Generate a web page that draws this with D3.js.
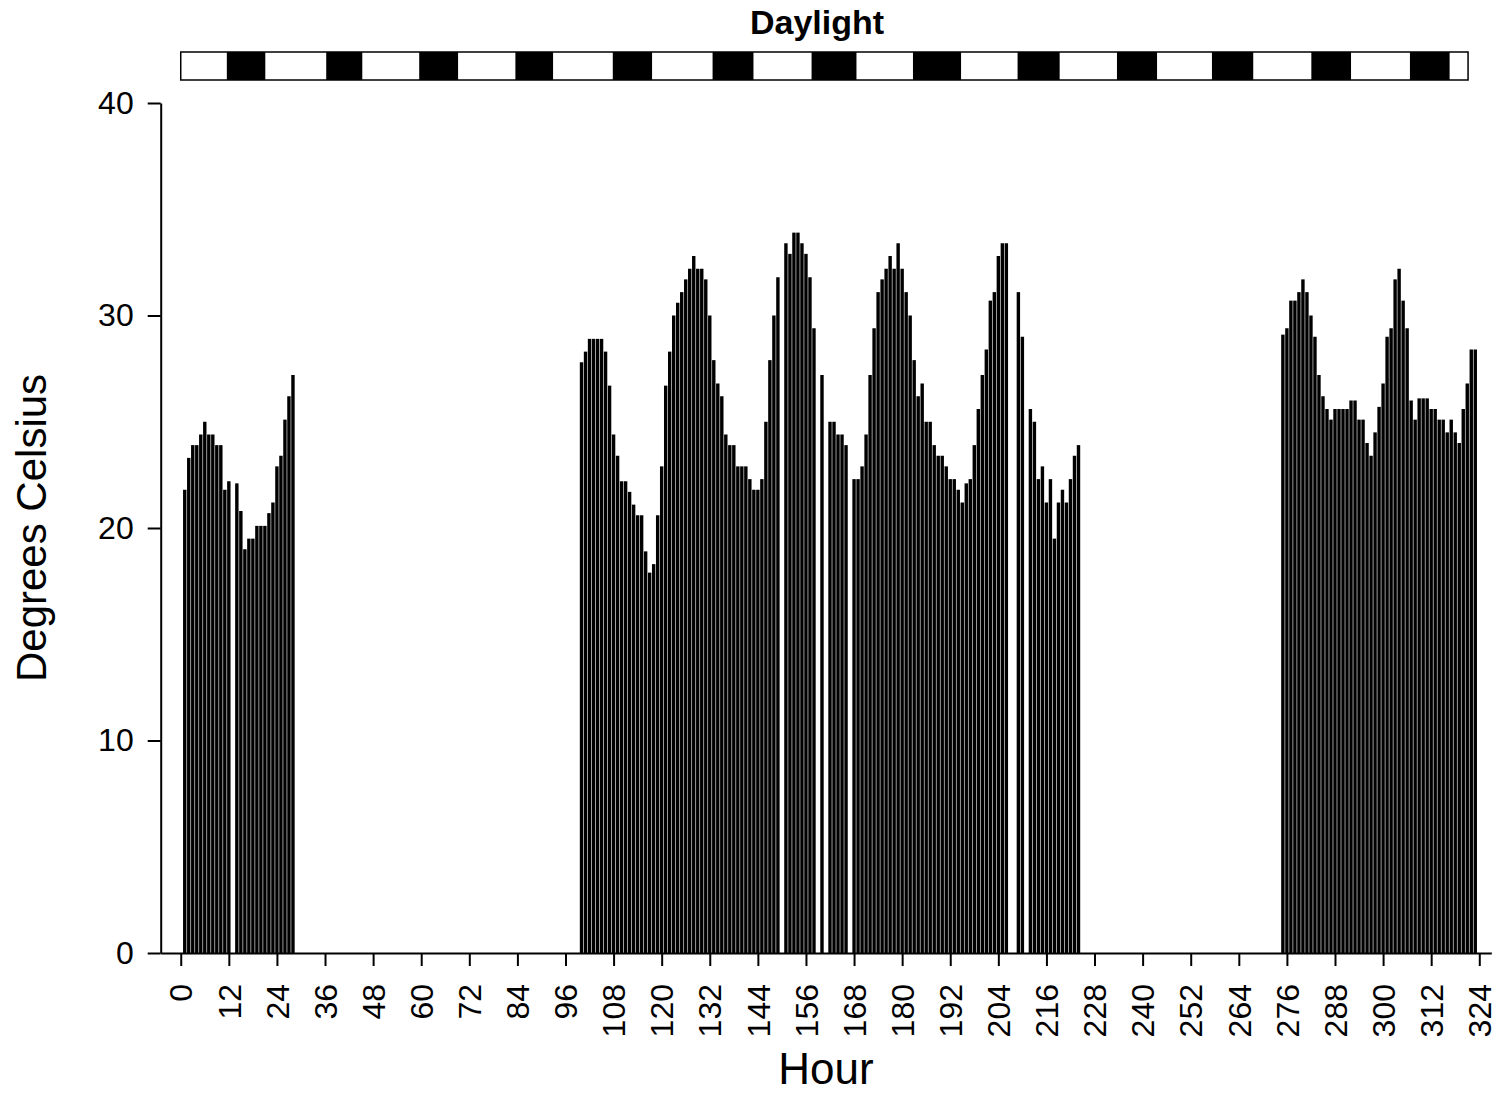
<!DOCTYPE html>
<html>
<head>
<meta charset="utf-8">
<script src="https://cdn.jsdelivr.net/npm/d3@7"></script>
<style>
  html, body { margin: 0; padding: 0; background: #fff; }
  svg { display: block; font-family: "Liberation Sans", Arial, sans-serif; }
</style>
</head>
<body>
<svg id="chart" width="1503" height="1095"></svg>
<script>
// Hourly temperature readings (°C); null = no reading for that hour.
const block1Start = 1;
const block1Temps = [21.8, 23.3, 23.9, 23.9, 24.4, 25.0, 24.4, 24.4, 23.9, 23.9, 21.8, 22.2,
  null, 22.1, 20.8, 19.0, 19.5, 19.5, 20.1, 20.1, 20.1, 20.7, 21.2, 22.9, 23.4, 25.1, 26.2, 27.2];

const block2Start = 100;
const block2Temps = [27.8, 28.3, 28.9, 28.9, 28.9, 28.9, 28.3, 26.7, 24.4, 23.4,   // 100-109
  22.2, 22.2, 21.7, 21.1, 20.6, 20.6, 18.9, 17.9, 18.3, 20.6,                       // 110-119
  22.9, 26.7, 28.3, 30.0, 30.6, 31.1, 31.7, 32.2, 32.8, 32.2,                       // 120-129
  32.2, 31.7, 30.0, 27.9, 26.8, 26.2, 24.4, 23.9, 23.9, 22.9,                       // 130-139
  22.9, 22.9, 22.3, 21.8, 21.8, 22.3, 25.0, 27.9, 30.0, 31.8,                       // 140-149
  null, 33.4, 32.9, 33.9, 33.9, 33.4, 32.9, 31.8, 29.4, null,                       // 150-159
  27.2, null, 25.0, 25.0, 24.4, 24.4, 23.9, null, 22.3, 22.3,                       // 160-169
  22.9, 24.4, 27.2, 29.4, 31.1, 31.7, 32.2, 32.8, 32.2, 33.4,                       // 170-179
  32.2, 31.1, 30.0, 27.9, 26.2, 26.8, 25.0, 25.0, 23.9, 23.4,                       // 180-189
  23.4, 22.9, 22.3, 22.3, 21.8, 21.2, 22.1, 22.3, 23.9, 25.6,                       // 190-199
  27.2, 28.4, 30.7, 31.1, 32.8, 33.4, 33.4, null, null, 31.1,                       // 200-209
  29.0, null, 25.6, 25.0, 22.3, 22.9, 21.2, 22.3, 19.5, 21.2,                       // 210-219
  21.8, 21.2, 22.3, 23.4, 23.9];                                                    // 220-224

const block3Start = 275;
const block3Temps = [29.1, 29.4, 30.7, 30.7, 31.1,                                  // 275-279
  31.7, 31.1, 30.0, 29.0, 27.2, 26.2, 25.6, 25.1, 25.6, 25.6,                       // 280-289
  25.6, 25.6, 26.0, 26.0, 25.1, 25.1, 24.0, 23.4, 24.5, 25.7,                       // 290-299
  26.8, 29.0, 29.4, 31.7, 32.2, 30.7, 29.4, 26.0, 25.1, 26.1,                       // 300-309
  26.1, 26.1, 25.6, 25.6, 25.1, 25.1, 24.5, 25.1, 24.5, 24.0,                       // 310-319
  25.6, 26.8, 28.4, 28.4];                                                          // 320-323

// Night periods (hour ranges) for the daylight strip, and its overall span.
const nightStarts = [11.5, 36.3, 59.5, 83.5, 107.8, 132.7, 157.4, 182.7, 208.8, 233.6, 257.3, 282.1, 306.7];
const nightEnds   = [21.1, 45.3, 69.2, 92.9, 117.6, 142.9, 168.6, 194.7, 219.3, 243.6, 267.6, 292.0, 316.6];
const stripSpan = [0, 321.2];

const xTicks = d3.range(0, 325, 12);
const yTicks = [0, 10, 20, 30, 40];

// Flatten the blocks into {hour, temp} records.
function toRecords(start, temps) {
  return temps.map((t, i) => ({ hour: start + i, temp: t })).filter(d => d.temp != null);
}
const readings = [].concat(
  toRecords(block1Start, block1Temps),
  toRecords(block2Start, block2Temps),
  toRecords(block3Start, block3Temps)
);

const svg = d3.select("#chart");
svg.append("rect").attr("width", 1503).attr("height", 1095).attr("fill", "#fff");

const x = d3.scaleLinear().domain([-5, 327]).range([160.7, 1491.3]);
const y = d3.scaleLinear().domain([0, 40]).range([953, 103]);
const step = x(1) - x(0);

// Bars, one hour wide each
svg.append("g")
  .selectAll("rect")
  .data(readings)
  .join("rect")
  .attr("x", d => x(d.hour - 0.5) + 0.3)
  .attr("width", step - 0.6)
  .attr("y", d => y(d.temp))
  .attr("height", d => y(0) - y(d.temp))
  .attr("fill", "#000");

// Y axis
const yAxis = svg.append("g")
  .attr("transform", `translate(${x(-5)},0)`)
  .call(d3.axisLeft(y).tickValues(yTicks).tickSize(13).tickPadding(14).tickSizeOuter(0));
yAxis.select(".domain").attr("stroke-width", 2);
yAxis.selectAll(".tick line").attr("stroke-width", 2);
yAxis.selectAll(".tick text")
  .attr("font-size", 32)
  .attr("font-family", "Liberation Sans, Arial, sans-serif")
  .attr("fill", "#000");

// X axis
const xAxis = svg.append("g")
  .attr("transform", `translate(0,${y(0)})`)
  .call(d3.axisBottom(x).tickValues(xTicks).tickSize(13).tickSizeOuter(0));
xAxis.select(".domain").attr("stroke-width", 2);
xAxis.selectAll(".tick line").attr("stroke-width", 2);
xAxis.selectAll(".tick text")
  .attr("font-size", 32)
  .attr("font-family", "Liberation Sans, Arial, sans-serif")
  .attr("fill", "#000")
  .attr("transform", "rotate(-90)")
  .attr("text-anchor", "end")
  .attr("x", -31)
  .attr("y", 0)
  .attr("dy", "0.35em");

// Axis titles
svg.append("text")
  .attr("x", (x(-5) + x(327)) / 2)
  .attr("y", 1084)
  .attr("text-anchor", "middle")
  .attr("font-size", 44)
  .text("Hour");

svg.append("text")
  .attr("transform", `translate(46,${(y(0) + y(40)) / 2}) rotate(-90)`)
  .attr("text-anchor", "middle")
  .attr("font-size", 42)
  .text("Degrees Celsius");

// Daylight strip
const strip = svg.append("g");
strip.append("text")
  .attr("x", 817)
  .attr("y", 34)
  .attr("text-anchor", "middle")
  .attr("font-size", 34)
  .attr("font-weight", "bold")
  .text("Daylight");

strip.append("rect")
  .attr("x", x(stripSpan[0]))
  .attr("y", 52)
  .attr("width", x(stripSpan[1]) - x(stripSpan[0]))
  .attr("height", 28)
  .attr("fill", "#fff")
  .attr("stroke", "#000")
  .attr("stroke-width", 1.5);

strip.selectAll("rect.night")
  .data(d3.zip(nightStarts, nightEnds))
  .join("rect")
  .attr("class", "night")
  .attr("x", d => x(d[0]))
  .attr("y", 52)
  .attr("width", d => x(d[1]) - x(d[0]))
  .attr("height", 28)
  .attr("fill", "#000");
</script>
</body>
</html>
